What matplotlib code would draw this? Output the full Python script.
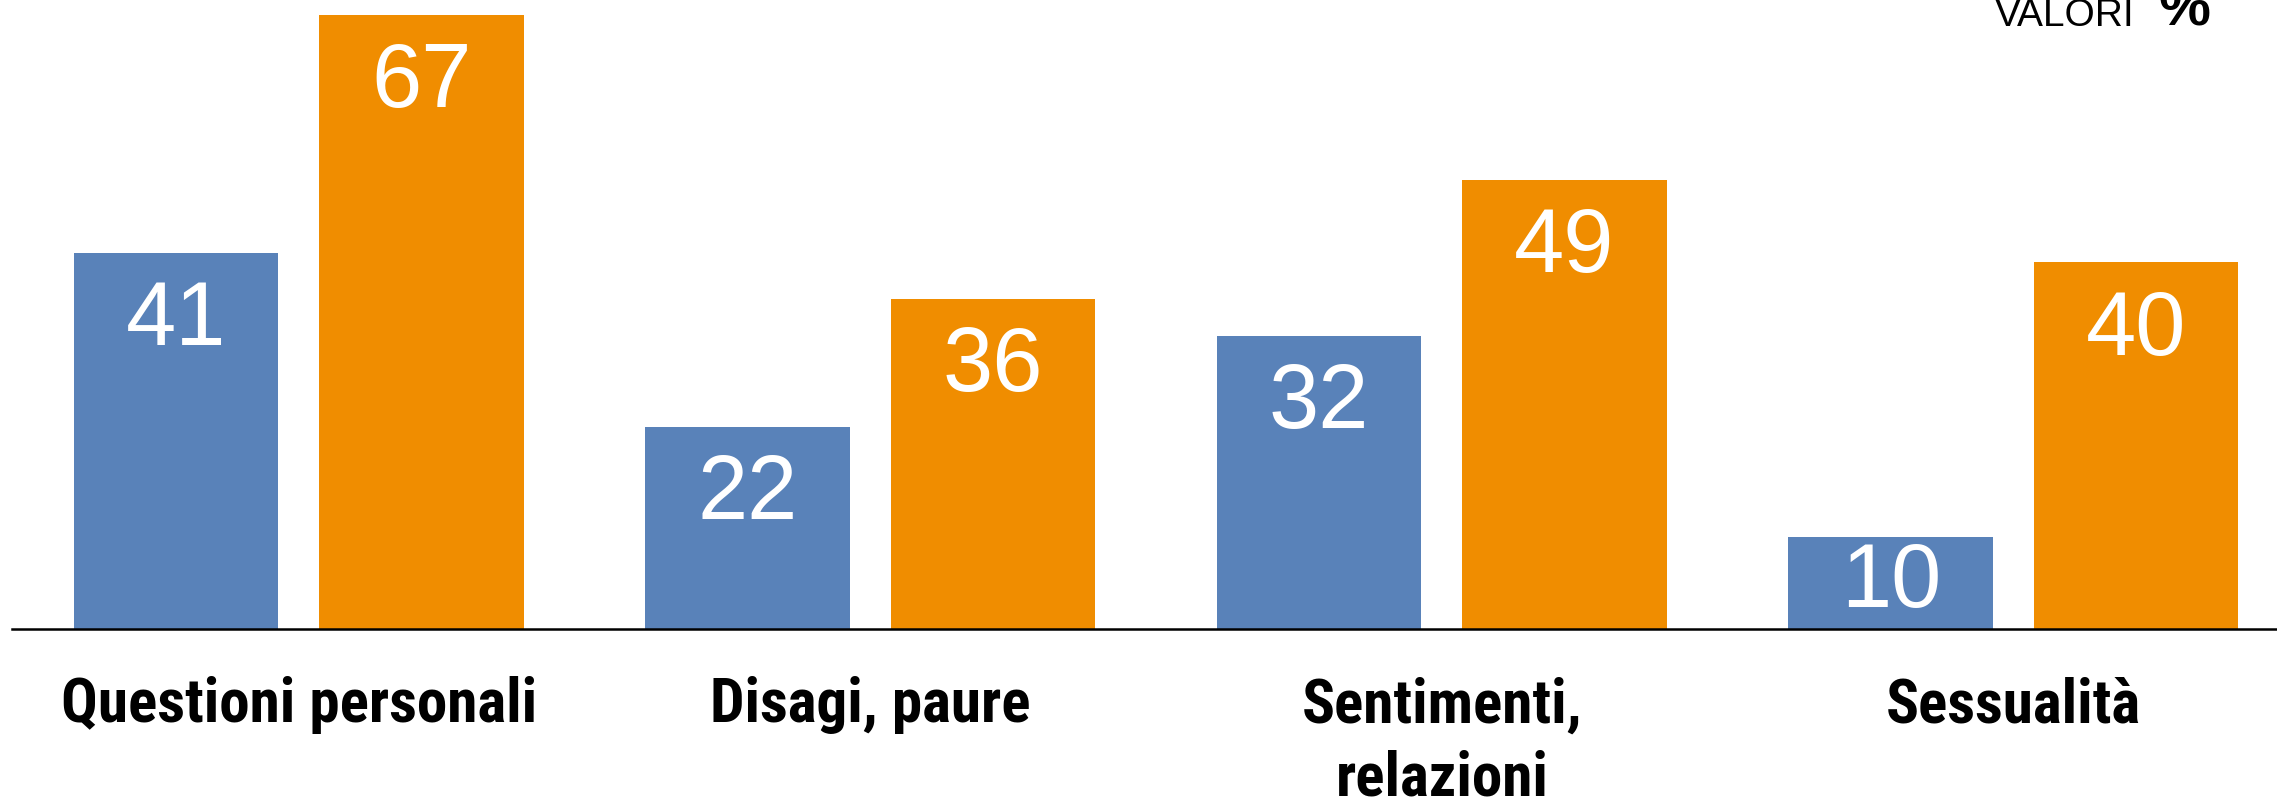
import numpy as np
import matplotlib
matplotlib.use("Agg")
import matplotlib.pyplot as plt
from matplotlib import font_manager as fm

categories = ["Questioni personali", "Disagi, paure", "Sentimenti,\nrelazioni", "Sessualità"]
series_a = [41, 22, 32, 10]
series_b = [67, 36, 49, 40]

BLUE = "#5982B9"
ORANGE = "#F08D00"


def _is_bold(f):
    wt = f.weight
    if isinstance(wt, str):
        return wt in ("bold", "heavy", "black", "semibold", "demibold", "extra bold")
    return wt >= 600


def pick_condensed_bold():
    prefs = ["Liberation Sans Narrow", "Roboto Condensed", "Open Sans Condensed",
             "Noto Sans Condensed", "DejaVu Sans Condensed", "DejaVu Sans"]
    cands = []
    for f in fm.fontManager.ttflist:
        cond = ("Narrow" in f.name or "Condensed" in f.name or "Condensed" in f.fname
                or "Narrow" in f.fname
                or str(f.stretch) in ("condensed", "semi-condensed", "extra-condensed"))
        if cond and _is_bold(f):
            cands.append(f)
    for p in prefs:
        for f in cands:
            if f.name == p or p.replace(" ", "") in f.fname.replace(" ", ""):
                return f.fname
    if cands:
        return cands[0].fname
    return None


cond_path = pick_condensed_bold()

fig = plt.figure(figsize=(22.77, 7.99), dpi=100)
ax = fig.add_axes([0.0051, 0.2128, 0.9949, 0.7872])

x = np.arange(len(categories))
w = 0.358
off = 0.2146
ax.bar(x - off, series_a, width=w, color=BLUE)
ax.bar(x + off, series_b, width=w, color=ORANGE)

ax.set_xlim(-0.502, 3.461)
ax.set_ylim(0, 68.64)

for s in ["top", "right", "left"]:
    ax.spines[s].set_visible(False)
ax.spines["bottom"].set_linewidth(1.8)
ax.spines["bottom"].set_color("black")
ax.set_xticks([])
ax.set_yticks([])
ax.patch.set_alpha(0)

val_font = ["Liberation Sans", "DejaVu Sans"]
for xs, vals in ((x - off, series_a), (x + off, series_b)):
    for xi, v in zip(xs, vals):
        yb = max(v - 10.05, 2.4)
        ax.text(xi, yb, str(v), ha="center", va="baseline", color="white",
                fontsize=65, family=val_font)

if cond_path:
    cat_props = fm.FontProperties(fname=cond_path, size=44, weight="bold")
else:
    cat_props = fm.FontProperties(family=["Liberation Sans", "DejaVu Sans"],
                                  size=38, weight="bold")

for xi, lab in zip(x, categories):
    ax.annotate(lab, xy=(xi, 0), xycoords="data", xytext=(0, -34),
                textcoords="offset points", ha="center", va="top",
                fontproperties=cat_props, linespacing=1.34,
                multialignment="center")

fig.text(1995 / 2277, 1 - 26 / 799, "VALORI", ha="left", va="baseline",
         fontsize=28, family=val_font, color="black")
fig.text(2158 / 2277, 1 - 26 / 799, "%", ha="left", va="baseline",
         fontsize=42, fontweight="bold", family=val_font, color="black")

fig.savefig("out.png", dpi=100)
